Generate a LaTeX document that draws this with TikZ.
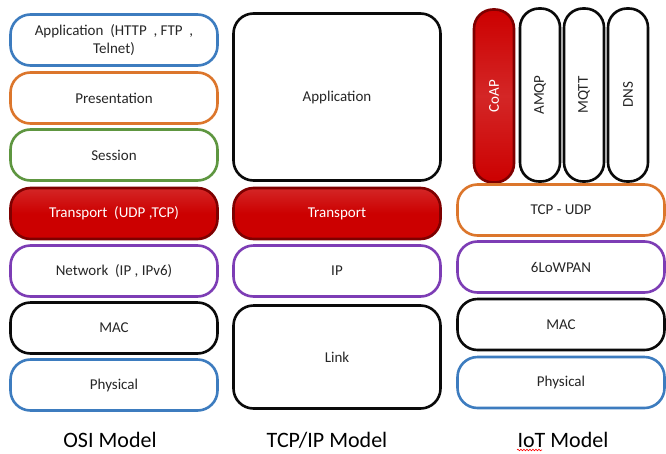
\documentclass[tikz,border=0pt]{standalone}
\usepackage{fontspec}
\setmainfont{Carlito}
\usetikzlibrary{decorations.pathmorphing}

\definecolor{lyblue}{HTML}{3D7CBF}
\definecolor{lyorange}{HTML}{DC762C}
\definecolor{lygreen}{HTML}{5E9640}
\definecolor{lypurple}{HTML}{7D3DB5}
\definecolor{lyblack}{HTML}{0A0A0A}
\definecolor{lyred}{HTML}{CC0000}
\definecolor{lyredrim}{HTML}{7E0000}
\definecolor{lytext}{HTML}{262626}

\tikzset{
  layer/.style={draw=#1, fill=white, rounded corners=20pt, line width=2.6pt,
    minimum width=207pt, minimum height=51pt, inner sep=0pt,
    font=\fontsize{15}{18}\selectfont, text=lytext, align=center},
  hotlayer/.style={layer=lyredrim, top color=lyred!85!white, bottom color=lyred,
    middle color=lyred, text=white},
  pill/.style={layer=#1, rotate=90, rounded corners=19pt,
    minimum width=173pt, minimum height=40pt},
  hotpill/.style={pill=lyredrim, top color=lyred, bottom color=lyred,
    middle color=lyred!85!white, text=white},
  caption/.style={font=\fontsize{22}{26}\selectfont, text=black}
}

\begin{document}
\begin{tikzpicture}[x=1pt, y=-1pt]
\useasboundingbox (0,0) rectangle (666,453);

% OSI stack
\node[layer=lyblue]   (osiapp)  at (114,40)    {Application\ \ (HTTP\ \ , FTP\ \ ,\\Telnet)};
\node[layer=lyorange] (osipres) at (114,98)    {Presentation};
\node[layer=lygreen]  (osisess) at (114,155)   {Session};
\node[hotlayer]       (ositran) at (114,213.5) {Transport\ \ (UDP ,TCP)};
\node[layer=lypurple] (osinet)  at (114,271)   {Network\ \ (IP , IPv6)};
\node[layer=lyblack]  (osimac)  at (114,328)   {MAC};
\node[layer=lyblue]   (osiphy)  at (114,385)   {Physical};
\node[caption] (osicap) at (110,440) {OSI Model};

% TCP/IP stack
\node[layer=lyblack, minimum height=167pt] (tcpapp) at (337,97) {Application};
\node[hotlayer]       (tcptran) at (337,213.5) {Transport};
\node[layer=lypurple] (tcpip)   at (337,271)   {IP};
\node[layer=lyblack, minimum height=103pt] (tcplink) at (337,357) {Link};
\node[caption] (tcpcap) at (327,440) {TCP/IP Model};

% IoT stack
\node[hotpill]       (coap) at (494,96) {CoAP};
\node[pill=lyblack]  (amqp) at (540,95) {AMQP};
\node[pill=lyblack]  (mqtt) at (584,95) {MQTT};
\node[pill=lyblack]  (dns)  at (628,95) {DNS};
\node[layer=lyorange] (iottr)  at (561,210)   {TCP - UDP};
\node[layer=lypurple] (iotnet) at (561,267)   {6LoWPAN};
\node[layer=lyblack]  (iotmac) at (561,324.5) {MAC};
\node[layer=lyblue]   (iotphy) at (561,382.5) {Physical};
\node[caption] (iotcap) at (563,440) {IoT Model};

% spell-check squiggle under "IoT"
\draw[red, line width=0.6pt, decorate,
      decoration={snake, amplitude=0.8pt, segment length=3pt}]
  (517,450) -- (542,450);
\end{tikzpicture}
\end{document}
